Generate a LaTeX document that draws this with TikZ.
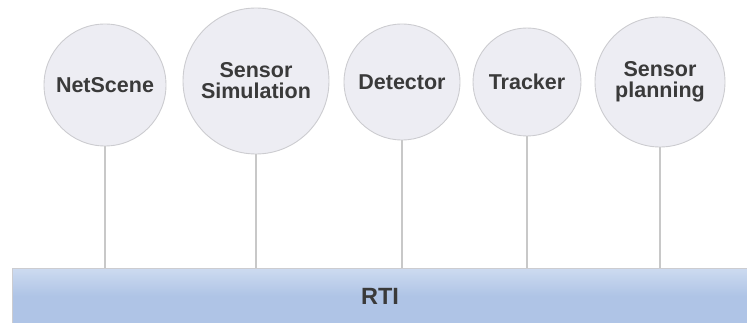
\documentclass[tikz,border=0pt]{standalone}
\usepackage{fontspec}
\setmainfont{Liberation Sans}
\usepackage{xcolor}
\usepackage{tikz}
\usetikzlibrary{positioning}
\pgfdeclarelayer{nodelayer}
\pgfdeclarelayer{edgelayer}
\pgfsetlayers{edgelayer,nodelayer,main}

\definecolor{bubblefill}{RGB}{237,237,243}
\definecolor{bubbleline}{RGB}{204,204,208}
\definecolor{stemline}{RGB}{200,200,200}
\definecolor{rtitop}{RGB}{205,219,240}
\definecolor{rtibot}{RGB}{175,196,230}
\definecolor{labeltext}{RGB}{58,58,58}

\tikzset{
  bubble/.style={circle, draw=bubbleline, line width=0.9pt, fill=bubblefill,
    inner sep=0pt, align=center, text=labeltext,
    font=\bfseries\fontsize{21.5}{21}\selectfont},
  rtibar/.style={rectangle, draw=bubbleline, line width=0.9pt,
    top color=rtitop, bottom color=rtibot, middle color=rtibot,
    inner sep=0pt, text=labeltext, font=\bfseries\fontsize{23.5}{25}\selectfont},
  stem/.style={draw=stemline, line width=1.1pt}
}

\begin{document}
\begin{tikzpicture}[x=1pt, y=-1pt]
  \useasboundingbox (0, 0) rectangle (747, 323);
  \begin{pgfonlayer}{nodelayer}
    \node [bubble, minimum size=122pt] (0) at (105, 85) {NetScene};
    \node [bubble, minimum size=146pt] (1) at (256, 81) {Sensor\\Simulation};
    \node [bubble, minimum size=116pt] (2) at (402, 82) {Detector};
    \node [bubble, minimum size=108pt] (3) at (527, 82) {Tracker};
    \node [bubble, minimum size=130pt] (4) at (660, 82) {Sensor\\planning};
    \node [rtibar, minimum width=736pt, minimum height=56pt] (5) at (380, 296) {RTI};
  \end{pgfonlayer}
  \begin{pgfonlayer}{edgelayer}
    \draw [stem] (0.south) to (0.south |- 5.north);
    \draw [stem] (1.south) to (1.south |- 5.north);
    \draw [stem] (2.south) to (2.south |- 5.north);
    \draw [stem] (3.south) to (3.south |- 5.north);
    \draw [stem] (4.south) to (4.south |- 5.north);
  \end{pgfonlayer}
\end{tikzpicture}
\end{document}
